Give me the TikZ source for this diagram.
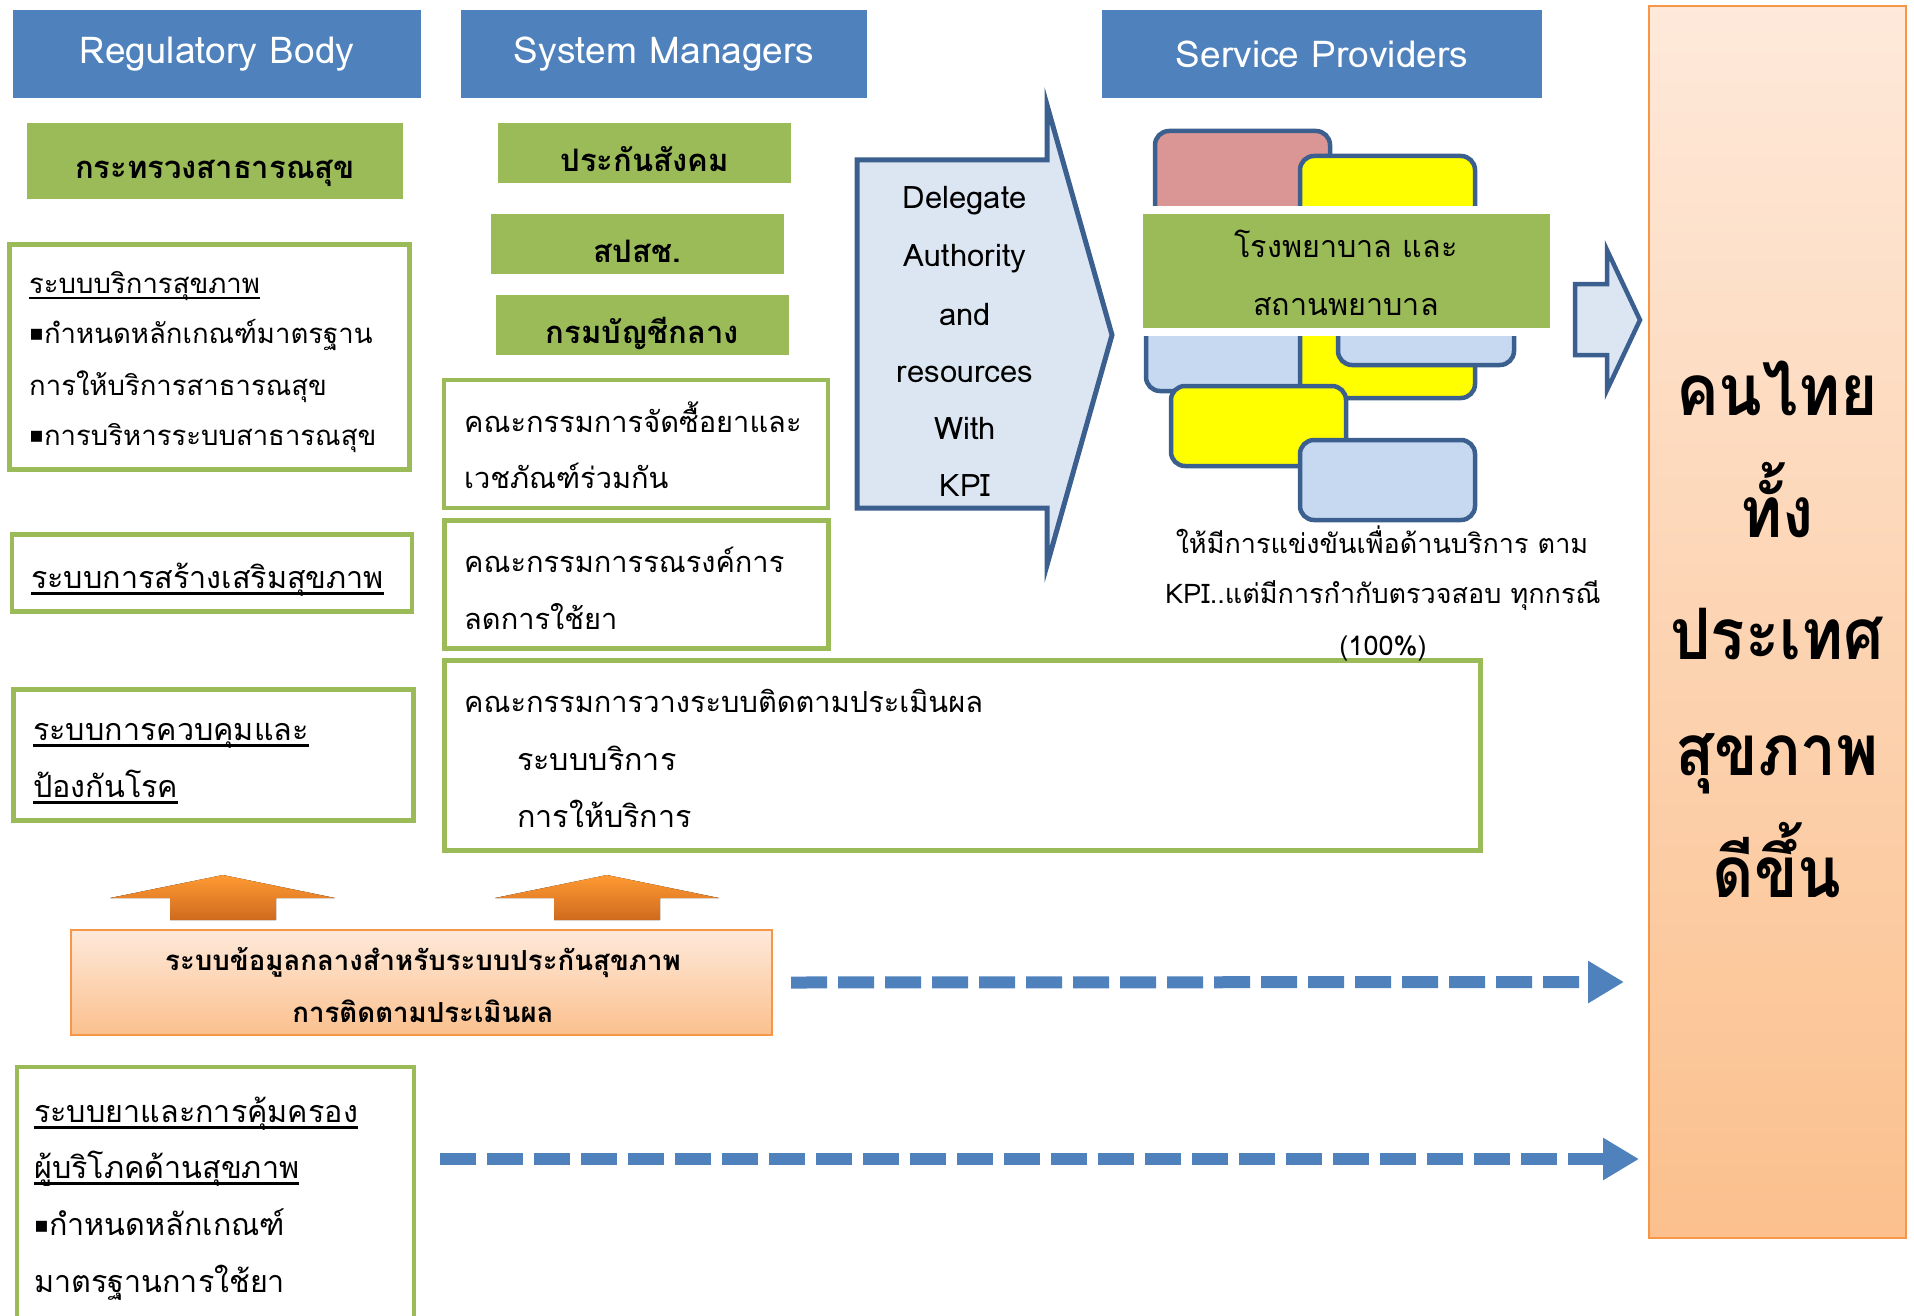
\documentclass[tikz,border=0pt]{standalone}
\usepackage{fontspec}
\setmainfont{Loma}[Script=Thai]
\newfontfamily\bigthai{Loma}[Script=Thai, FakeStretch=0.9]
\newfontfamily\dejavu{DejaVu Sans}
\usetikzlibrary{arrows.meta,calc}
\definecolor{hdrblue}{HTML}{4F81BD}
\definecolor{grn}{HTML}{9BBB59}
\definecolor{arrfill}{HTML}{DCE6F2}
\definecolor{arrline}{HTML}{3B5F8E}
\definecolor{pinkr}{HTML}{D99694}
\definecolor{yel}{HTML}{FFFF00}
\definecolor{lblue}{HTML}{C6D9F1}
\definecolor{orline}{HTML}{F79646}
\definecolor{ortop}{HTML}{FEE9DA}
\definecolor{orbot}{HTML}{FBC08D}
\definecolor{uptop}{HTML}{FF9A33}
\definecolor{upbot}{HTML}{CF6A1E}
\newcommand{\ulthai}[1]{\setbox0\hbox{#1}\rlap{\rule[-0.22em]{\wd0}{0.075em}}\box0}
\newcommand{\sqbul}{{\dejavu\fontsize{22}{22}\selectfont\raisebox{0.12em}{▪}}}
\tikzset{
  hdr/.style={fill=hdrblue, text=white, inner sep=0pt, font=\fontsize{37}{42}\selectfont},
  gbox/.style={fill=grn, inner sep=0pt, text height=36pt, text depth=0pt, font=\bfseries\fontsize{31}{36}\selectfont},
  wbox/.style={draw=grn, line width=4.5pt, fill=white, inner sep=0pt},
  txt/.style={anchor=base west, inner sep=0pt, font=\fontsize{29}{34}\selectfont},
  txtl/.style={anchor=base west, inner sep=0pt, font=\fontsize{30.5}{34}\selectfont},
  txts/.style={anchor=base west, inner sep=0pt, font=\fontsize{27.5}{34}\selectfont},
  ctxt/.style={anchor=base, inner sep=0pt, font=\fontsize{31}{36}\selectfont},
  captxt/.style={anchor=base, inner sep=0pt, font=\fontsize{27}{32}\selectfont},
  bigtxt/.style={anchor=base, inner sep=0pt, font=\bigthai\bfseries\fontsize{71}{80}\selectfont},
  rr/.style={draw=arrline, line width=4.5pt, rounded corners=14pt},
  bigarrow/.style={draw=arrline, fill=arrfill, line width=5pt, line join=miter},
  uparrow/.style={top color=uptop, bottom color=upbot, draw=none},
  dasharrow/.style={draw=hdrblue, line width=12pt, dash pattern=on 36pt off 11pt,
     -{Triangle[length=36pt,width=40pt]}},
}
\begin{document}
\begin{tikzpicture}[x=1pt,y=-1pt]
\useasboundingbox (0,0) rectangle (1914,1316);
% headers
\node[hdr, minimum width=408pt, minimum height=88pt] (h1) at (217,54) {Regulatory Body};
\node[hdr, minimum width=406pt, minimum height=88pt] (h2) at (664,54) {System Managers};
\node[hdr, minimum width=440pt, minimum height=88pt] (h3) at (1322,54) {Service Providers};
% green filled boxes
\node[gbox, minimum width=376pt, minimum height=76pt] (g1) at (215,161) {กระทรวงสาธารณสุข};
\node[gbox, minimum width=293pt, minimum height=60pt] (g2) at (644.5,153.5) {ประกันสังคม};
\node[gbox, minimum width=293pt, minimum height=60pt] (g3) at (637.5,244) {สปสช.};
\node[gbox, minimum width=293pt, minimum height=60pt] (g4) at (642.5,325) {กรมบัญชีกลาง};
% white boxes
\node[wbox, minimum width=400pt, minimum height=225pt] (w1) at (209.5,357) {};
\node[wbox, minimum width=400pt, minimum height=77pt] (w2) at (212,573) {};
\node[wbox, minimum width=400pt, minimum height=131pt] (w3) at (213.5,755) {};
\node[wbox, minimum width=397pt, minimum height=270pt] (w4) at (215.5,1202) {};
\node[wbox, minimum width=384pt, minimum height=128pt] (wA) at (636,444) {};
\node[wbox, minimum width=384pt, minimum height=128pt] (wB) at (636.5,584.5) {};
\node[wbox, minimum width=1036pt, minimum height=190pt] (wC) at (962.5,755.5) {};
% texts of white boxes
\node[txts] (t1a) at (29,293) {\ulthai{ระบบบริการสุขภาพ}};
\node[txts] (t1b) at (29,343) {\sqbul กำหนดหลักเกณฑ์มาตรฐาน};
\node[txts] (t1c) at (29,395) {การให้บริการสาธารณสุข};
\node[txts] (t1d) at (29,445) {\sqbul การบริหารระบบสาธารณสุข};
\node[txtl] (t2) at (31,588) {\ulthai{ระบบการสร้างเสริมสุขภาพ}};
\node[txtl] (t3a) at (33,740) {\ulthai{ระบบการควบคุมและ}};
\node[txtl] (t3b) at (33,797) {\ulthai{ป้องกันโรค}};
\node[txtl] (t4a) at (34,1122) {\ulthai{ระบบยาและการคุ้มครอง}};
\node[txtl] (t4b) at (34,1178) {\ulthai{ผู้บริโภคด้านสุขภาพ}};
\node[txtl] (t4c) at (34,1235) {\sqbul กำหนดหลักเกณฑ์};
\node[txtl] (t4d) at (34,1292) {มาตรฐานการใช้ยา};
\node[txt] (tAa) at (464,432) {คณะกรรมการจัดซื้อยาและ};
\node[txt] (tAb) at (464,488) {เวชภัณฑ์ร่วมกัน};
\node[txt] (tBa) at (464,572) {คณะกรรมการรณรงค์การ};
\node[txt] (tBb) at (464,629) {ลดการใช้ยา};
\node[txt] (tCa) at (464,712) {คณะกรรมการวางระบบติดตามประเมินผล};
\node[txtl] (tCb) at (517,770) {ระบบบริการ};
\node[txtl] (tCc) at (517,827) {การให้บริการ};
% big delegate arrow
\draw[bigarrow] (857,160) -- (1047,160) -- (1047,105) -- (1112,335) -- (1047,565) -- (1047,508) -- (857,508) -- cycle;
\node[ctxt] (da) at (965,208) {Delegate};
\node[ctxt] (db) at (965,266) {Authority};
\node[ctxt] (dc) at (965,325) {and};
\node[ctxt] (dd) at (965,382) {resources};
\node[ctxt] (de) at (965,439) {With};
\node[ctxt] (df) at (965,496) {KPI};
% service provider blocks
\draw[rr, fill=pinkr] (1155,131) rectangle (1330,300);
\draw[rr, fill=lblue] (1146,240) rectangle (1320,391);
\draw[rr, fill=yel] (1300,156) rectangle (1475,398);
\draw[rr, fill=lblue] (1338,250) rectangle (1514,365);
\draw[rr, fill=yel] (1171,386) rectangle (1346,466);
\draw[rr, fill=lblue] (1300,440) rectangle (1475,520);
\fill[white] (1143,206) rectangle (1550,336);
\node[fill=grn, minimum width=407pt, minimum height=114pt, inner sep=0pt] (hosp) at (1346.5,271) {};
\node[ctxt, font=\fontsize{30.5}{36}\selectfont] (hospa) at (1346,257) {โรงพยาบาล และ};
\node[ctxt, font=\fontsize{30.5}{36}\selectfont] (hospb) at (1346,315) {สถานพยาบาล};
% caption
\node[captxt] (capa) at (1382,553) {ให้มีการแข่งขันเพื่อด้านบริการ ตาม};
\node[captxt] (capb) at (1383,603) {KPI..แต่มีการกำกับตรวจสอบ ทุกกรณี};
\node[captxt] (capc) at (1383,655) {(100\%)};
% small arrow
\draw[bigarrow, line width=4.5pt] (1575,284) -- (1607,284) -- (1607,250) -- (1640,320) -- (1607,390) -- (1607,355) -- (1575,355) -- cycle;
% right tall box
\node[draw=orline, line width=2.5pt, top color=ortop, bottom color=orbot, minimum width=257pt, minimum height=1232pt, inner sep=0pt] (people) at (1777.5,622) {};
\node[bigtxt] (pa) at (1777,415) {คนไทย};
\node[bigtxt] (pb) at (1777,537) {ทั้ง};
\node[bigtxt] (pc) at (1777,659) {ประเทศ};
\node[bigtxt] (pd) at (1777,775) {สุขภาพ};
\node[bigtxt] (pe) at (1777,897) {ดีขึ้น};
% up arrows
\fill[uparrow] (170,920) -- (170,898) -- (110,898) -- (223,875) -- (335,898) -- (276,898) -- (276,920) -- cycle;
\fill[uparrow] (554,920) -- (554,898) -- (495,898) -- (607,875) -- (719,898) -- (660,898) -- (660,920) -- cycle;
% info box
\node[draw=orline, line width=2pt, top color=ortop, bottom color=orbot, minimum width=701pt, minimum height=105pt, inner sep=0pt] (info) at (421.5,982.5) {};
\node[ctxt, font=\bfseries\fontsize{27.6}{32}\selectfont] (ia) at (423,970) {ระบบข้อมูลกลางสำหรับระบบประกันสุขภาพ};
\node[ctxt, font=\bfseries\fontsize{27.6}{32}\selectfont] (ib) at (423,1022) {การติดตามประเมินผล};
% dashed arrows
\coordinate (d1s) at ($(info.east)+(18,0)$);
\coordinate (d1e) at (1624,982);
\coordinate (d2s) at (440,1159);
\coordinate (d2e) at (1639,1159);
\draw[dasharrow] (d1s) -- (d1e);
\draw[dasharrow] (d2s) -- (d2e);
\end{tikzpicture}
\end{document}
